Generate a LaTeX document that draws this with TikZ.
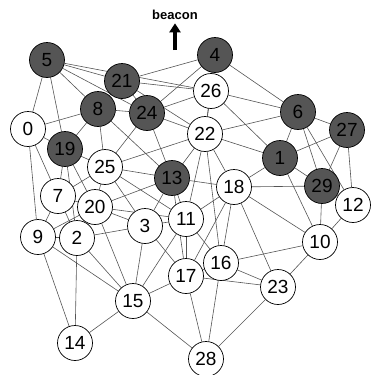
\documentclass[tikz,border=0pt]{standalone}
\usepackage{fontspec}
\setmainfont{Liberation Sans}
\usetikzlibrary{backgrounds,arrows.meta}

\begin{document}
\begin{tikzpicture}[x=1pt,y=-1pt]
  \tikzstyle{every node}=[font=\fontsize{19}{19}\selectfont]
  \tikzstyle{sensor}=[circle,draw=black,line width=0.7pt,minimum size=35pt,inner sep=0pt,fill=white]
  \tikzstyle{anchor node}=[sensor,fill={rgb:black,2;white,1}]
  \tikzstyle{link}=[draw={rgb:black,2;white,1},line width=0.6pt]
  \useasboundingbox (0,0) rectangle (372,375);
  % beacon
  \node[font=\fontsize{13}{13}\selectfont\bfseries] (beacon) at (175,15) {beacon};
  \coordinate (b_0) at (175,50);
  \draw[line width=3.4pt,-{Triangle[length=9pt,width=11pt]}] (b_0) -- (beacon);
  % anchors
  \node[anchor node] (n5) at (47,60) {5};
  \node[anchor node] (n21) at (122,81) {21};
  \node[anchor node] (n4) at (215,55) {4};
  \node[anchor node] (n8) at (98,109) {8};
  \node[anchor node] (n24) at (147,113) {24};
  \node[anchor node] (n19) at (65,149) {19};
  \node[anchor node] (n6) at (298,112) {6};
  \node[anchor node] (n27) at (347,130) {27};
  \node[anchor node] (n13) at (172,178) {13};
  \node[anchor node] (n1) at (280,158) {1};
  \node[anchor node] (n29) at (322,186) {29};
  % unknown nodes
  \node[sensor] (n0) at (28,129) {0};
  \node[sensor] (n26) at (211,91) {26};
  \node[sensor] (n22) at (205,134) {22};
  \node[sensor] (n25) at (105,167) {25};
  \node[sensor] (n18) at (234,187) {18};
  \node[sensor] (n12) at (353,205) {12};
  \node[sensor] (n7) at (58,196) {7};
  \node[sensor] (n20) at (95,207) {20};
  \node[sensor] (n3) at (145,226) {3};
  \node[sensor] (n11) at (186,219) {11};
  \node[sensor] (n9) at (38,237) {9};
  \node[sensor] (n2) at (77,238) {2};
  \node[sensor] (n10) at (320,242) {10};
  \node[sensor] (n16) at (221,263) {16};
  \node[sensor] (n17) at (186,276) {17};
  \node[sensor] (n23) at (278,287) {23};
  \node[sensor] (n15) at (133,301) {15};
  \node[sensor] (n14) at (75,343) {14};
  \node[sensor] (n28) at (206,359) {28};
  % links
  \begin{scope}[on background layer]
    \foreach \a/\b in {5/0,5/19,5/21,5/8,5/24,5/26,21/4,21/8,21/24,21/26,21/22,
      8/0,8/24,8/19,8/25,8/13,24/26,24/22,24/13,24/25,24/4,4/26,4/6,4/22,
      0/19,0/7,0/9,19/7,19/25,19/20,19/2,25/20,25/13,25/3,25/7,25/22,25/11,
      13/22,13/18,13/11,13/3,13/20,13/17,22/26,22/6,22/1,22/18,22/11,22/16,
      26/6,26/1,6/27,6/1,6/29,6/12,27/1,27/29,27/12,1/18,1/29,1/10,18/29,
      18/10,29/10,29/12,12/10,7/20,7/9,7/2,20/2,20/3,20/15,20/9,20/11,
      9/2,9/14,9/15,2/14,2/15,2/3,3/15,3/11,3/17,11/18,11/17,11/16,11/15,
      18/16,18/17,18/23,16/10,16/23,16/17,16/28,17/15,17/28,17/23,
      15/14,15/28,23/28,23/10}
      \draw[link] (n\a) -- (n\b);
  \end{scope}
\end{tikzpicture}
\end{document}
